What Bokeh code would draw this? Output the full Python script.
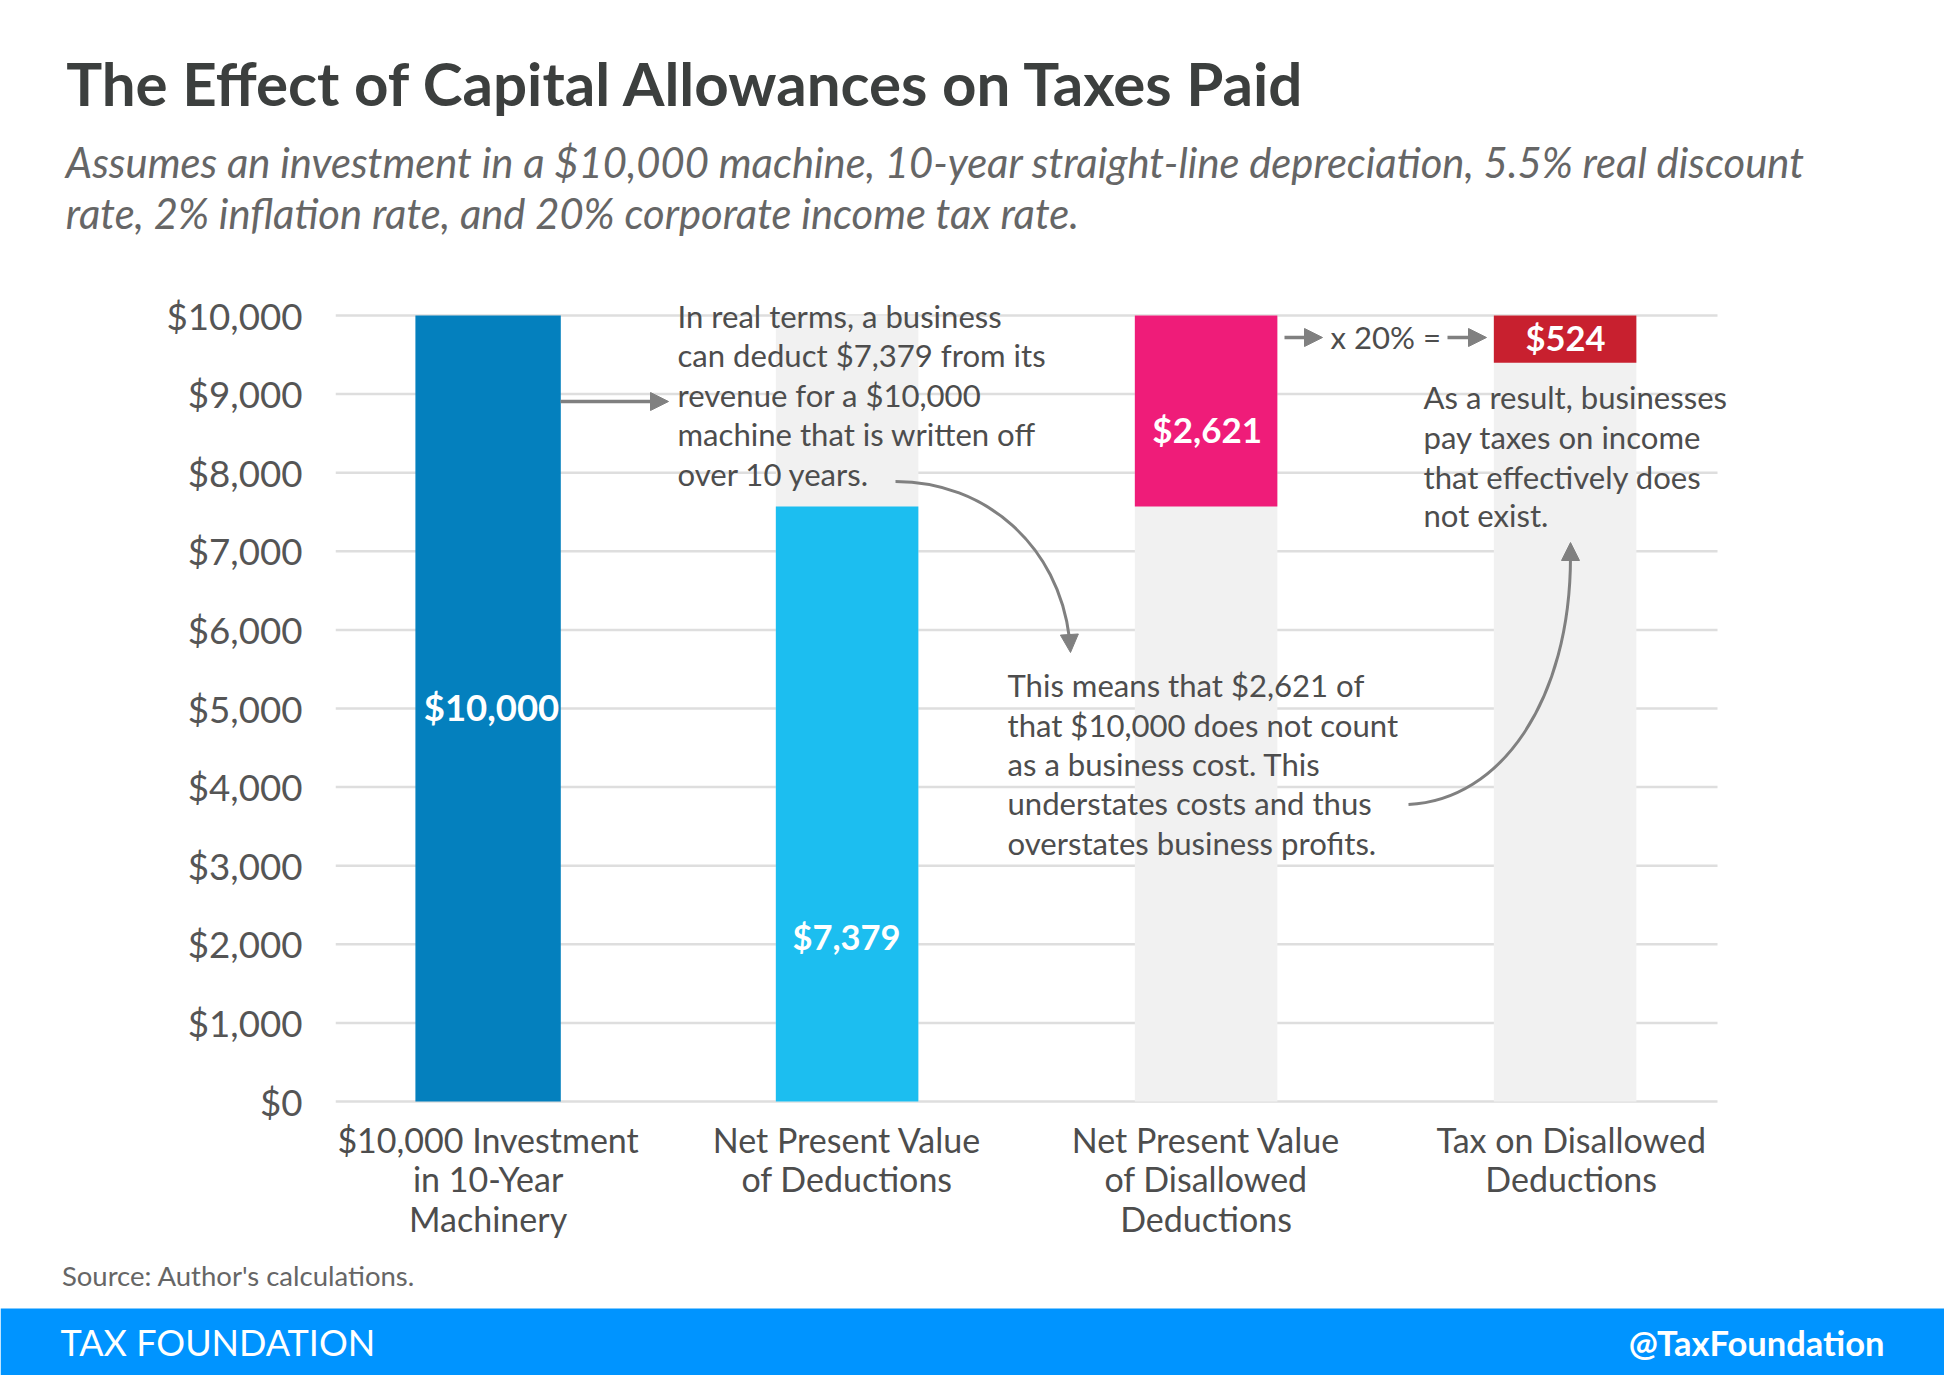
from bokeh.embed import file_html
from bokeh.layouts import column
from bokeh.models import (Arrow, BoxAnnotation, ColumnDataSource, FixedTicker, Label, NormalHead,
                          NumeralTickFormatter, Range1d)
from bokeh.plotting import figure
from bokeh.resources import INLINE

# ---- data ----
categories = ["$10,000 Investment\nin 10-Year\nMachinery", "Net Present Value\nof Deductions",
              "Net Present Value\nof Disallowed\nDeductions", "Tax on Disallowed\nDeductions"]
bar_bottoms = [0, 0, 7570, 9400]
bar_tops = [10000, 7570, 10000, 10000]
bar_colors = ["#0480BE", "#1CBEF0", "#EF1C79", "#C8202F"]
bar_labels = ["$10,000", "$7,379", "$2,621", "$524"]
track_positions = [1, 2, 3]
track_tops = [10000, 10000, 10000]
y_ticks = [0, 1000, 2000, 3000, 4000, 5000, 6000, 7000, 8000, 9000, 10000]

title = "The Effect of Capital Allowances on Taxes Paid"
subtitle = ["Assumes an investment in a $10,000 machine, 10-year straight-line depreciation, 5.5% real discount",
            "rate, 2% inflation rate, and 20% corporate income tax rate."]
note_a = ["In real terms, a business", "can deduct $7,379 from its", "revenue for a $10,000",
          "machine that is written off", "over 10 years."]
note_b = ["This means that $2,621 of", "that $10,000 does not count", "as a business cost. This",
          "understates costs and thus", "overstates business profits."]
note_c = ["As a result, businesses", "pay taxes on income", "that effectively does", "not exist."]

# ---- layout (reference pixel coordinates) ----
W, H = 1944, 1376
HEAD_B, FOOT_T = 285, 1250
FL, FR, FT, FB = 335, 1730, HEAD_B, 1110
GRID_R = 1717
X0_PX, X_STEP = 487.6, 359.0
Y0_PX, Y_STEP = 1101.0, 0.0786
BASE_K = 0.38  # label baseline correction, share of font size


def dx(px):
    return (px - X0_PX) / X_STEP


def dy(py):
    return (Y0_PX - py) / Y_STEP


def plain(h, y_top, y_bottom):
    f = figure(width=W, height=h, output_backend="svg", toolbar_location=None, frame_align=False,
               x_range=Range1d(0, W), y_range=Range1d(y_bottom, y_top),
               x_axis_type=None, y_axis_type=None,
               min_border_left=0, min_border_right=0, min_border_top=0, min_border_bottom=0)
    f.outline_line_color = None
    f.grid.visible = False
    return f


header = plain(HEAD_B, 0, HEAD_B)
footer = plain(H - FOOT_T, FOOT_T, H)

p = figure(width=W, height=FOOT_T - HEAD_B, output_backend="svg", toolbar_location=None, frame_align=False,
           x_range=Range1d(dx(FL), dx(FR)), y_range=Range1d(dy(FB), dy(FT)),
           min_border_left=FL, min_border_right=W - FR,
           min_border_top=0, min_border_bottom=FOOT_T - FB)
p.outline_line_color = None
p.xgrid.visible = False
p.ygrid.visible = False
p.segment(x0=[dx(FL)] * len(y_ticks), x1=[dx(GRID_R)] * len(y_ticks), y0=y_ticks, y1=y_ticks,
          line_color="#DEDEDE", line_width=2.5)

# y axis
p.yaxis.ticker = FixedTicker(ticks=y_ticks)
p.yaxis.formatter = NumeralTickFormatter(format="$0,0")
p.yaxis.axis_line_color = None
p.yaxis.major_tick_line_color = None
p.yaxis.minor_tick_line_color = None
p.yaxis.major_label_standoff = 27
p.yaxis.major_label_text_font = "Lato"
p.yaxis.major_label_text_font_size = "36.7px"
p.yaxis.major_label_text_color = "#555555"

# x axis
tick_pos = [0, 1, 2, 3.017]
p.xaxis.ticker = FixedTicker(ticks=tick_pos)
p.xaxis.major_label_overrides = dict(zip(tick_pos, categories))
p.xaxis.axis_line_color = None
p.xaxis.major_tick_line_color = None
p.xaxis.minor_tick_line_color = None
p.xaxis.major_label_standoff = 2
p.xaxis.major_label_text_font = "Lato"
p.xaxis.major_label_text_font_size = "34px"
p.xaxis.major_label_text_color = "#4D4D4D"
p.xaxis.major_label_text_line_height = 0.97
p.xaxis.major_label_orientation = "horizontal"

# bars
p.vbar(x=track_positions, width=0.397, bottom=0, top=track_tops, fill_color="#F1F1F1", line_color=None)
bar_widths = [0.405, 0.397, 0.397, 0.397]
p.vbar(x="x", width="w", bottom="b", top="t", fill_color="c", line_color=None,
       source=ColumnDataSource(dict(x=list(range(4)), w=bar_widths, b=bar_bottoms, t=bar_tops, c=bar_colors)))


def text_on(fig, x, y, text, size, color="#4D4D4D", style="normal", align="left"):
    fig.add_layout(Label(x=x, y=y, text=text, text_font="Lato", text_font_size=f"{size}px",
                         text_color=color, text_font_style=style, text_align=align,
                         text_baseline="alphabetic"))


def label(px, base, text, size, color="#4D4D4D", style="normal", align="left"):
    text_on(p, dx(px), dy(base - BASE_K * size), text, size, color, style, align)


def lines(px, baselines, texts, size=31.1):
    for b, t in zip(baselines, texts):
        label(px, b, t, size)


# connector arrows
ARROW = "#808080"


def arrow(x0, y0, x1, y1, lw=3.5, size=18):
    head = NormalHead(size=size, fill_color=ARROW, line_color=ARROW, line_width=1)
    p.add_layout(Arrow(end=head, x_start=dx(x0), y_start=dy(y0), x_end=dx(x1), y_end=dy(y1),
                       line_color=ARROW, line_width=lw))


arrow(560, 401, 668, 401)
arrow(1284, 337, 1322, 337)
arrow(1447, 337, 1486, 337)

p.bezier(x0=[dx(895)], y0=[dy(481)], cx0=[dx(985)], cy0=[dy(481)], cx1=[dx(1058)], cy1=[dy(545)],
         x1=[dx(1069)], y1=[dy(638)], line_color=ARROW, line_width=3)
arrow(1069, 636, 1070, 652, size=18)
p.bezier(x0=[dx(1408)], y0=[dy(804)], cx0=[dx(1500)], cy0=[dy(800)], cx1=[dx(1570)], cy1=[dy(700)],
         x1=[dx(1570)], y1=[dy(556)], line_color=ARROW, line_width=3)
arrow(1570, 560, 1570, 542, size=18)

# bar value labels
label(491, 720.6, bar_labels[0], 36.5, "white", "bold", "center")
label(846, 949, bar_labels[1], 34.5, "white", "bold", "center")
label(1206.7, 442, bar_labels[2], 35, "white", "bold", "center")
label(1565, 350, bar_labels[3], 34.5, "white", "bold", "center")

# notes
label(1330, 348, "x 20% =", 31.1)
lines(677, [327.5, 366.5, 406.5, 445.5, 485.5], note_a)
lines(1007, [696.5, 736, 775.7, 814.7, 854.5], note_b)
lines(1423, [408.5, 448.5, 488, 526.5], note_c)

# header and footer
text_on(header, 65.7, 105.6 - BASE_K * 60.1, title, 60.1, "#3C3F3E", "bold")
text_on(header, 65.3, 177 - BASE_K * 41.76, subtitle[0], 41.76, "#666666", "italic")
text_on(header, 65.3, 228 - BASE_K * 41.76, subtitle[1], 41.76, "#666666", "italic")
text_on(footer, 61.4, 1285 - BASE_K * 27.5, "Source: Author's calculations.", 27.5, "#666666")
footer.add_layout(BoxAnnotation(left=0, right=W, top=1308, bottom=1374.6,
                                fill_color="#0094FF", fill_alpha=1, line_color=None, level="underlay"))
text_on(footer, 60, 1355 - BASE_K * 36, "TAX FOUNDATION", 36, "white")
text_on(footer, 1884, 1355 - BASE_K * 34.5, "@TaxFoundation", 34.5, "white", "bold", "right")

open("out.html", "w").write(file_html(column(header, p, footer, spacing=0), INLINE))
